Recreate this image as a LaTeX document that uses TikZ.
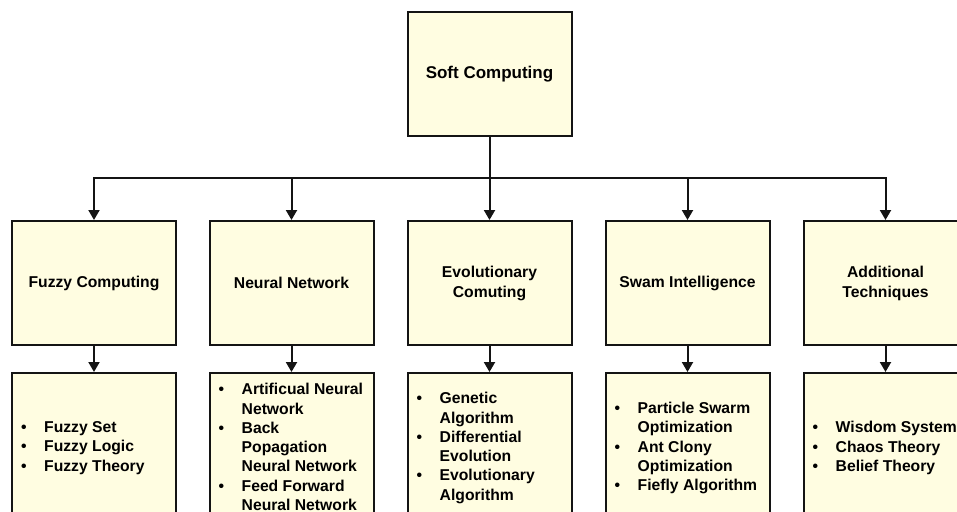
\documentclass[tikz,border=0pt]{standalone}
\usepackage{fontspec}
\setmainfont{Liberation Sans}
\usetikzlibrary{arrows.meta}
\definecolor{boxfill}{RGB}{255,253,225}
\definecolor{edge}{RGB}{20,20,20}
\newcommand{\bi}[1]{\makebox[23pt][l]{\textbullet}#1}
\newcommand{\ci}[1]{\hspace*{23pt}#1}
\tikzset{
 box/.style={draw=edge, fill=boxfill, line width=2pt, minimum width=164pt, inner sep=0pt, font=\bfseries\fontsize{15.7}{20}\selectfont, align=center},
 toprow/.style={box, minimum height=124pt},
 botrow/.style={box, minimum height=146pt},
 list/.style={anchor=west, inner sep=0pt, align=left, font=\bfseries\fontsize{15.7}{19.3}\selectfont},
 arr/.style={draw=edge, line width=2pt, -{Triangle[width=11pt,length=10pt]}},
 link/.style={draw=edge, line width=2pt},
}
\begin{document}
\begin{tikzpicture}[x=1pt,y=-1pt]
\useasboundingbox (0,0) rectangle (957,511);
\clip (0,0) rectangle (957,511);
\fill[white] (0,0) rectangle (957,511);
\node[toprow, font=\bfseries\fontsize{17}{20}\selectfont] (top) at (489.5,74) {Soft Computing};
\node[toprow] (n1) at (94,283) {Fuzzy Computing};
\node[toprow] (n2) at (291.5,283) {Neural Network};
\node[toprow] (n3) at (489.5,283) {Evolutionary\\Comuting};
\node[toprow] (n4) at (687.5,283) {Swam Intelligence};
\node[toprow] (n5) at (885.5,283) {Additional\\Techniques};
\node[botrow] (b1) at (94,446) {};
\node[botrow] (b2) at (291.5,446) {};
\node[botrow] (b3) at (489.5,446) {};
\node[botrow] (b4) at (687.5,446) {};
\node[botrow] (b5) at (885.5,446) {};
\node[list] (t1) at ([xshift=10pt,yshift=-2pt]b1.west) {\bi{Fuzzy Set}\\\bi{Fuzzy Logic}\\\bi{Fuzzy Theory}};
\node[list] (t2) at ([xshift=10pt,yshift=-1pt]b2.west) {\bi{Artificual Neural}\\\ci{Network}\\\bi{Back}\\\ci{Popagation}\\\ci{Neural Network}\\\bi{Feed Forward}\\\ci{Neural Network}};
\node[list] (t3) at ([xshift=10pt,yshift=-2pt]b3.west) {\bi{Genetic}\\\ci{Algorithm}\\\bi{Differential}\\\ci{Evolution}\\\bi{Evolutionary}\\\ci{Algorithm}};
\node[list] (t4) at ([xshift=10pt,yshift=-2pt]b4.west) {\bi{Particle Swarm}\\\ci{Optimization}\\\bi{Ant Clony}\\\ci{Optimization}\\\bi{Fiefly Algorithm}};
\node[list] (t5) at ([xshift=10pt,yshift=-2pt]b5.west) {\bi{Wisdom System}\\\bi{Chaos Theory}\\\bi{Belief Theory}};
\coordinate (j) at (489.5,178);
\draw[link] (top.south) -- (j);
\draw[arr] (j) -| (n1.north);
\draw[arr] (j) -| (n2.north);
\draw[arr] (j) -- (n3.north);
\draw[arr] (j) -| (n4.north);
\draw[arr] (j) -| (n5.north);
\draw[arr] (n1.south) -- (b1.north);
\draw[arr] (n2.south) -- (b2.north);
\draw[arr] (n3.south) -- (b3.north);
\draw[arr] (n4.south) -- (b4.north);
\draw[arr] (n5.south) -- (b5.north);
\end{tikzpicture}
\end{document}
